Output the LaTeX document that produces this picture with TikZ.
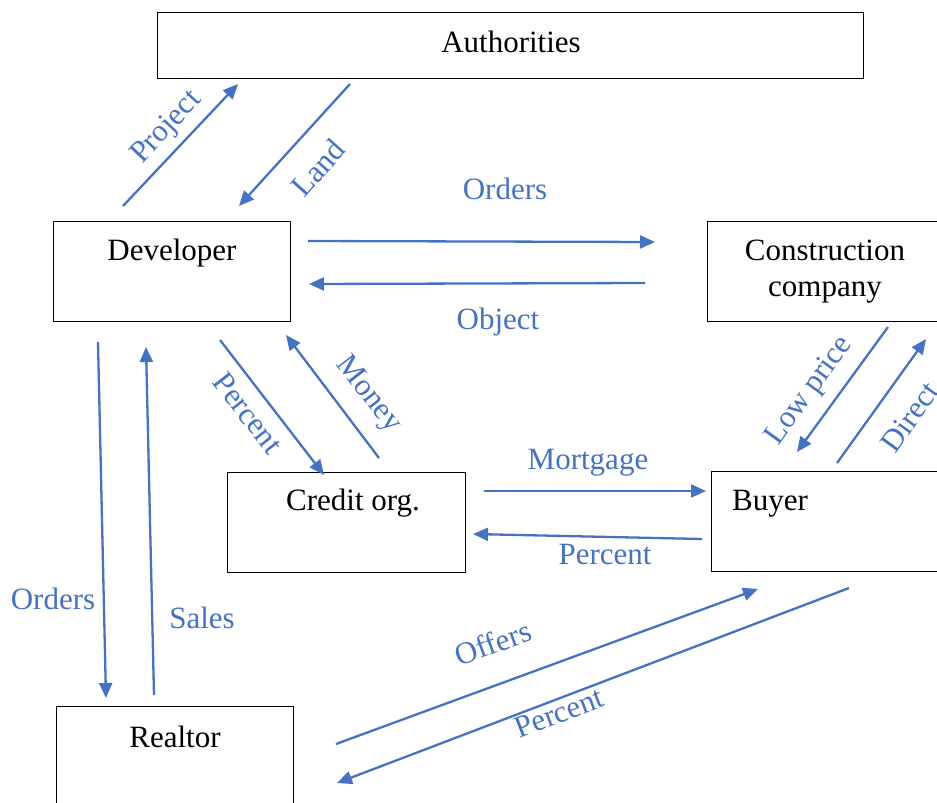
\documentclass[tikz,border=0pt]{standalone}
\usepackage{fontspec}
\setmainfont{Liberation Serif}
\usetikzlibrary{arrows.meta}
\definecolor{flowblue}{HTML}{4472C4}
\newcommand{\boxFont}{\fontsize{31}{36}\selectfont}

\begin{document}
\begin{tikzpicture}[x=1pt, y=-1pt,
   box/.style={draw, line width=1.3pt, anchor=north west, inner sep=0pt},
   flow/.style={flowblue, line width=2.3pt, -{Triangle[length=15pt,width=13pt]}},
   lbl/.style={text=flowblue, font=\boxFont, inner sep=0pt},
   txt/.style={font=\boxFont, inner sep=0pt, align=center}]
   \useasboundingbox (0,0) rectangle (937,803);
   \clip (0,0) rectangle (937,803);

   % boxes
   \node[box, minimum width=706pt, minimum height=66pt] (auth) at (157,12) {};
   \node[box, minimum width=237pt, minimum height=100pt] (dev) at (53,221) {};
   \node[box, minimum width=260pt, minimum height=100pt] (cons) at (707,221) {};
   \node[box, minimum width=238pt, minimum height=100pt] (cred) at (227,472) {};
   \node[box, minimum width=260pt, minimum height=100pt] (buy) at (711,471) {};
   \node[box, minimum width=237pt, minimum height=130pt] (real) at (56,706) {};

   \node[txt] (autht) at (511,42) {Authorities};
   \node[txt] (devt) at (172,253) {Developer};
   \node[txt] (const) at (825,272) {Construction\\company};
   \node[txt] (credt) at (353,503) {Credit org.};
   \node[txt] (buyt) at (770,504) {Buyer};
   \node[txt] (realt) at (175,737) {Realtor};

   % arrow ends
   \coordinate (prjA) at (123,206);  \coordinate (prjB) at (238,84);
   \coordinate (lndA) at (350,84);   \coordinate (lndB) at (239,206);
   \coordinate (ordA) at (308,241);  \coordinate (ordB) at (655,242);
   \coordinate (objA) at (645,283);  \coordinate (objB) at (309,284);
   \coordinate (pctA) at (220,340);  \coordinate (pctB) at (324,475);
   \coordinate (monA) at (379,458);  \coordinate (monB) at (286,335);
   \coordinate (mrtA) at (484,491);  \coordinate (mrtB) at (706,491);
   \coordinate (bpcA) at (702,539);  \coordinate (bpcB) at (473,534);
   \coordinate (lowA) at (888,327);  \coordinate (lowB) at (797,452);
   \coordinate (dirA) at (837,463);  \coordinate (dirB) at (926,339);
   \coordinate (rorA) at (98,342);   \coordinate (rorB) at (106,698);
   \coordinate (salA) at (154,695);  \coordinate (salB) at (146,347);
   \coordinate (offA) at (336,744);  \coordinate (offB) at (758,589);
   \coordinate (rpcA) at (849,588);  \coordinate (rpcB) at (337,783);

   \draw[flow] (prjA) -- (prjB);
   \draw[flow] (lndA) -- (lndB);
   \draw[flow] (ordA) -- (ordB);
   \draw[flow] (objA) -- (objB);
   \draw[flow] (pctA) -- (pctB);
   \draw[flow] (monA) -- (monB);
   \draw[flow] (mrtA) -- (mrtB);
   \draw[flow] (bpcA) -- (bpcB);
   \draw[flow] (lowA) -- (lowB);
   \draw[flow] (dirA) -- (dirB);
   \draw[flow] (rorA) -- (rorB);
   \draw[flow] (salA) -- (salB);
   \draw[flow] (offA) -- (offB);
   \draw[flow] (rpcA) -- (rpcB);

   % labels
   \node[lbl, rotate=47] (prjl) at (167,128) {Project};
   \node[lbl, rotate=48] (lndl) at (318,168) {Land};
   \node[lbl] (ordl) at (505,189) {Orders};
   \node[lbl] (objl) at (498,322) {Object};
   \node[lbl, rotate=-52] (pctl) at (248,413) {Percent};
   \node[lbl, rotate=-52] (monl) at (368,395) {Money};
   \node[lbl] (mrtl) at (588,463) {Mortgage};
   \node[lbl] (bpcl) at (605,554) {Percent};
   \node[lbl, rotate=54] (lowl) at (810,391) {Low price};
   \node[lbl, rotate=54] (dirl) at (910,417) {Direct};
   \node[lbl] (rorl) at (53,599) {Orders};
   \node[lbl] (sall) at (202,618) {Sales};
   \node[lbl, rotate=20] (offl) at (493,643) {Offers};
   \node[lbl, rotate=21] (rpcl) at (559,713) {Percent};
\end{tikzpicture}
\end{document}
